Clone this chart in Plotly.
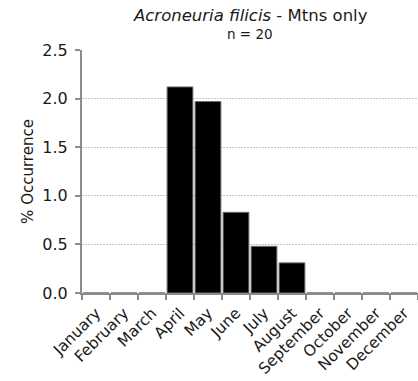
import plotly.graph_objects as go

months = ["January", "February", "March", "April", "May", "June", "July",
          "August", "September", "October", "November", "December"]
occurrence = [0, 0, 0, 2.12, 1.97, 0.83, 0.48, 0.31, 0, 0, 0, 0]

title_species = "Acroneuria filicis"
title_rest = " - Mtns only"
subtitle = "n = 20"
y_title = "% Occurrence"

font_family = "DejaVu Sans, Verdana, sans-serif"
text_color = "#1a1a1a"
axis_color = "#8c8c8c"

fig = go.Figure(go.Bar(
    x=months, y=occurrence,
    marker=dict(color="black", line=dict(color="#6e6e6e", width=1)),
))

fig.update_layout(
    width=418, height=381,
    margin=dict(l=82, r=0, t=50, b=88, autoexpand=False),
    plot_bgcolor="white", paper_bgcolor="white",
    bargap=0.08,
    showlegend=False,
    font=dict(family=font_family, size=16, color=text_color),
)
fig.add_annotation(text=f"<i>{title_species}</i>{title_rest}",
                   xref="paper", yref="paper", x=0.5, y=1.0, yshift=35,
                   showarrow=False, font=dict(size=16.5, color=text_color), yanchor="middle")
fig.add_annotation(text=subtitle, xref="paper", yref="paper", x=0.5, y=1.0, yshift=16,
                   showarrow=False, font=dict(size=13.5, color=text_color), yanchor="middle")

fig.update_xaxes(
    type="category", tickangle=-45, tickson="boundaries", automargin=False,
    showline=True, linecolor=axis_color, linewidth=2,
    ticks="outside", ticklen=5, tickcolor=axis_color, tickwidth=1.5,
    showgrid=False, tickfont=dict(size=15.5), ticklabelstandoff=3,
)
fig.update_yaxes(
    range=[0, 2.5], dtick=0.5, tickformat=".1f", automargin=False,
    showline=True, linecolor=axis_color, linewidth=2,
    ticks="outside", ticklen=5, tickcolor=axis_color, tickwidth=1.5,
    showgrid=True, gridcolor="#c4c4c4", griddash="2px,1px", gridwidth=1,
    zeroline=False, tickfont=dict(size=16), ticklabelstandoff=4,
    title=dict(text=y_title, font=dict(size=15), standoff=5),
)

fig.write_html(
    "out.html",
    config={"displayModeBar": False},
    post_script="document.body.style.margin='0';document.body.style.padding='0';document.body.style.overflow='hidden';",
)
